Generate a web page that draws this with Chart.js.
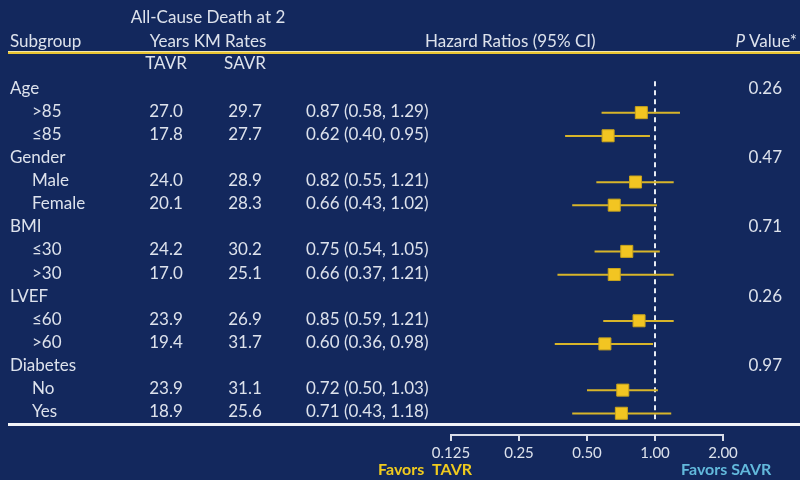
<!DOCTYPE html>
<html>
<head>
<meta charset="utf-8">
<script src="https://cdn.jsdelivr.net/npm/chart.js@4.4.1/dist/chart.umd.min.js"></script>
<style>
  html, body { margin: 0; padding: 0; background: #13285d; }
  canvas { display: block; }
</style>
</head>
<body>
<canvas id="forest" width="800" height="480"></canvas>
<script>
// Subgroup table: all-cause death at 2 years (KM rates) and hazard ratios
const groups = ['Age', 'Gender', 'BMI', 'LVEF', 'Diabetes'];
const pValues = ['0.26', '0.47', '0.71', '0.26', '0.97'];
const subgroupLabels = ['>85', '≤85', 'Male', 'Female', '≤30', '>30', '≤60', '>60', 'No', 'Yes'];
const tavrRates = [27.0, 17.8, 24.0, 20.1, 24.2, 17.0, 23.9, 19.4, 23.9, 18.9];
const savrRates = [29.7, 27.7, 28.9, 28.3, 30.2, 25.1, 26.9, 31.7, 31.1, 25.6];
const hazardRatio = [0.87, 0.62, 0.82, 0.66, 0.75, 0.66, 0.85, 0.60, 0.72, 0.71];
const ciLower = [0.58, 0.40, 0.55, 0.43, 0.54, 0.37, 0.59, 0.36, 0.50, 0.43];
const ciUpper = [1.29, 0.95, 1.21, 1.02, 1.05, 1.21, 1.21, 0.98, 1.03, 1.18];
const axisTicks = [0.125, 0.25, 0.5, 1, 2];
const axisTickLabels = ['0.125', '0.25', '0.50', '1.00', '2.00'];

// each group takes a heading row followed by its two subgroup rows
const groupRow = g => g * 3;
const subRow = i => Math.floor(i / 2) * 3 + 1 + (i % 2);

const FONT = 'Lato, "Open Sans", sans-serif';
const SIZE = 17;
const TEXT = '#dde2ec';
const YELLOW = '#f2c522';
const CI_COLOR = '#d8b52a';

const fmt1 = v => v.toFixed(1);
const fmt2 = v => v.toFixed(2);

const tablePlugin = {
  id: 'forestTable',
  beforeDatasetsDraw(chart) {
    const { ctx, scales: { x, y } } = chart;
    ctx.save();
    // reference line at HR = 1
    ctx.strokeStyle = '#e8ecf4';
    ctx.lineWidth = 2;
    ctx.setLineDash([5, 4]);
    ctx.beginPath();
    ctx.moveTo(x.getPixelForValue(1), y.getPixelForValue(-0.3));
    ctx.lineTo(x.getPixelForValue(1), y.getPixelForValue(14.55));
    ctx.stroke();
    ctx.setLineDash([]);
    // confidence intervals
    ctx.strokeStyle = CI_COLOR;
    ctx.lineWidth = 2;
    hazardRatio.forEach((hr, i) => {
      const py = y.getPixelForValue(subRow(i)) + 1.5;
      ctx.beginPath();
      ctx.moveTo(x.getPixelForValue(ciLower[i]), py);
      ctx.lineTo(x.getPixelForValue(ciUpper[i]), py);
      ctx.stroke();
    });
    ctx.restore();
  },
  afterDraw(chart) {
    const { ctx, scales: { y } } = chart;
    const font = SIZE + 'px ' + FONT;
    ctx.save();
    ctx.fillStyle = TEXT;
    ctx.textBaseline = 'middle';
    ctx.font = font;

    // column headings
    ctx.textAlign = 'center';
    ctx.fillText('All-Cause Death at 2', 208, 18);
    ctx.fillText('Years KM Rates', 208, 42);
    ctx.fillText('TAVR', 166, 64);
    ctx.fillText('SAVR', 245, 64);
    ctx.textAlign = 'left';
    ctx.fillText('Subgroup', 10, 42);
    ctx.fillText('Hazard Ratios (95% CI)', 425, 42);
    ctx.textAlign = 'right';
    ctx.fillText('Value*', 797, 42);
    const vw = ctx.measureText('Value*').width;
    ctx.font = 'italic ' + font;
    ctx.fillText('P ', 797 - vw, 42);
    ctx.font = font;

    // header rule
    ctx.fillStyle = '#e9c431';
    ctx.fillRect(8, 51, 792, 3);
    ctx.fillStyle = '#f4e7a8';
    ctx.fillRect(8, 51, 792, 1);

    // table body
    ctx.fillStyle = TEXT;
    groups.forEach((g, gi) => {
      const py = y.getPixelForValue(groupRow(gi));
      ctx.textAlign = 'left';
      ctx.fillText(g, 10, py);
      ctx.textAlign = 'right';
      ctx.fillText(pValues[gi], 782, py);
    });
    subgroupLabels.forEach((label, i) => {
      const py = y.getPixelForValue(subRow(i));
      ctx.textAlign = 'left';
      ctx.fillText(label, 32, py);
      ctx.textAlign = 'center';
      ctx.fillText(fmt1(tavrRates[i]), 166, py);
      ctx.fillText(fmt1(savrRates[i]), 245, py);
      ctx.textAlign = 'left';
      ctx.fillText(fmt2(hazardRatio[i]) + ' (' + fmt2(ciLower[i]) + ', ' + fmt2(ciUpper[i]) + ')', 306, py);
    });

    // closing rule under the table
    ctx.fillStyle = '#f2f4f8';
    ctx.fillRect(8, 423, 792, 3);

    // direction labels
    ctx.font = 'bold 16px ' + FONT;
    ctx.textAlign = 'left';
    ctx.fillStyle = '#f0cb1e';
    ctx.fillText('Favors  TAVR', 378, 470);
    ctx.fillStyle = '#62b9dc';
    ctx.fillText('Favors SAVR', 681, 470);
    ctx.restore();
  }
};

new Chart(document.getElementById('forest'), {
  type: 'scatter',
  data: {
    datasets: [{
      data: hazardRatio.map((hr, i) => ({ x: hr, y: subRow(i) + 0.06 })),
      pointStyle: 'rect',
      pointRadius: 8.5,
      pointHoverRadius: 8.5,
      backgroundColor: YELLOW,
      borderColor: '#c9a41c',
      borderWidth: 1
    }]
  },
  options: {
    responsive: false,
    animation: false,
    events: [],
    layout: { padding: { left: 451, right: 77, top: 65, bottom: 0 } },
    plugins: { legend: { display: false }, tooltip: { enabled: false } },
    scales: {
      x: {
        type: 'logarithmic',
        min: 0.125,
        max: 2,
        afterBuildTicks: s => { s.ticks = axisTicks.map(v => ({ value: v })); },
        afterFit: s => { s.height = 45; },
        ticks: {
          color: TEXT,
          font: { family: FONT, size: 15 },
          padding: 3,
          maxRotation: 0,
          autoSkip: false,
          callback: (v, idx) => axisTickLabels[idx]
        },
        grid: { drawOnChartArea: false, drawTicks: true, tickLength: 6, color: '#d8dde8', lineWidth: 2 },
        border: { display: true, color: '#d8dde8', width: 2 }
      },
      y: {
        type: 'linear',
        display: false,
        reverse: true,
        min: -1,
        max: 15
      }
    }
  },
  plugins: [tablePlugin]
});
</script>
</body>
</html>
